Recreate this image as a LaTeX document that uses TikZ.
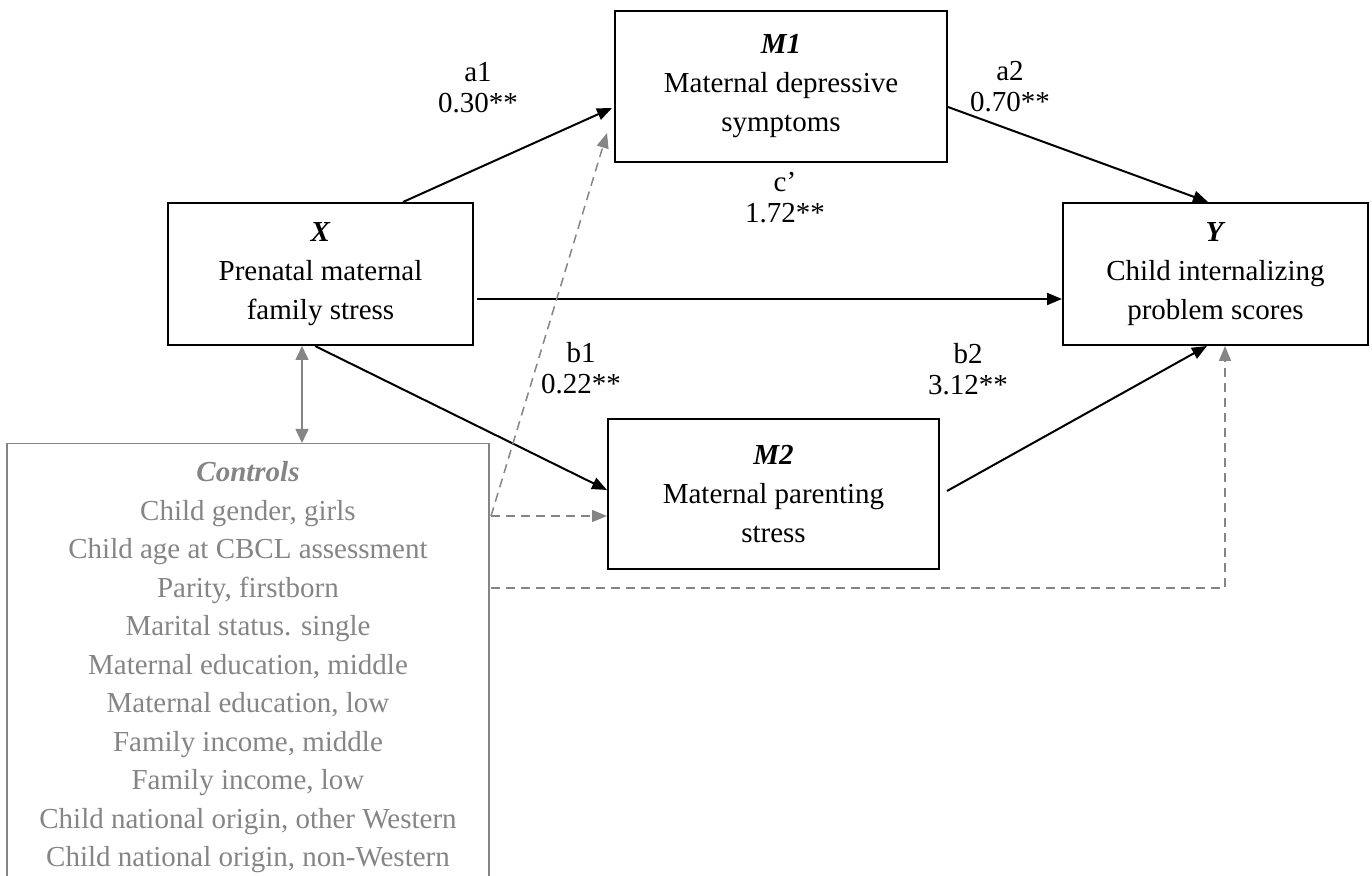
\documentclass[tikz,border=0pt]{standalone}
\usepackage{fontspec}
\setmainfont{Liberation Serif}
\usetikzlibrary{arrows.meta,calc}
\definecolor{ctrlgray}{HTML}{858585}

\begin{document}
\begin{tikzpicture}[x=0.5pt,y=-0.5pt,font=\fontsize{14.5}{19.5}\selectfont,
  var/.style={draw,line width=1pt,align=center,inner sep=0pt},
  link/.style={line width=1pt,-{Triangle[length=7.5pt,width=6pt]}},
  ctrllink/.style={ctrlgray,line width=0.75pt,dash pattern=on 4.5pt off 3pt,-{Triangle[length=7.5pt,width=6pt]}},
  coef/.style={align=center,font=\fontsize{14.5}{15.5}\selectfont}]
\clip (0,0) rectangle (1372,876);
% variables
\node[var,minimum width=152.5pt,minimum height=71pt] (X) at (320.5,274) {\textbf{\textit{X}}\\Prenatal maternal\\family stress};
\node[var,minimum width=166pt,minimum height=75.5pt] (M1) at (781,86.5) {\textbf{\textit{M1}}\\Maternal depressive\\symptoms};
\node[var,minimum width=165.5pt,minimum height=75pt] (M2) at (773.5,494) {\textbf{\textit{M2}}\\Maternal parenting\\stress};
\node[var,minimum width=152.5pt,minimum height=71pt] (Y) at (1215.5,274) {\textbf{\textit{Y}}\\Child internalizing\\problem scores};
% controls, cut off at the bottom
\node[draw=ctrlgray,line width=0.75pt,inner sep=0pt,minimum width=241pt,minimum height=250pt,anchor=north] (ctrl) at (248,443) {};
\node[align=center,inner sep=0pt,anchor=north,text=ctrlgray,font=\fontsize{14.5}{19.25}\selectfont] (ctrltext) at (248,461) {\textbf{\textit{Controls}}\\Child gender, girls\\Child age at CBCL assessment\\Parity, firstborn\\Marital status. single\\Maternal education, middle\\Maternal education, low\\Family income, middle\\Family income, low\\Child national origin, other Western\\Child national origin, non-Western};
% paths
\draw[link] ($(X.north)+(82.5,0)$) -- ($(M1.west)+(-2,21.5)$);
\draw[link] ($(M1.east)+(0,20.5)$) -- ($(Y.north)+(-7.5,0)$);
\draw[link] ($(X.east)+(3,25)$) -- ($(Y.west)+(0,25)$);
\draw[link] ($(X.south)+(-5.5,0)$) -- ($(M2.west)+(0,-4)$);
\draw[link] ($(M2.east)+(7,-3)$) -- ($(Y.south)+(-8.5,0)$);
% coefficients
\node[coef] (a1) at (478,88) {a1\\0.30**};
\node[coef] (a2) at (1010,87) {a2\\0.70**};
\node[coef] (c) at (785,198) {c’\\1.72**};
\node[coef] (b1) at (581,368) {b1\\0.22**};
\node[coef] (b2) at (968,369) {b2\\3.12**};
% control links
\coordinate (dbl) at ($(X.south)+(-18.5,0)$);
\draw[ctrlgray,line width=0.75pt,{Triangle[length=7pt,width=6.5pt]}-{Triangle[length=7pt,width=6.5pt]}] (dbl) -- (dbl |- ctrl.north);
\coordinate (cA) at (491,516);
\coordinate (cB) at (491,588);
\draw[ctrllink] (cA) -- ($(M1.south west)+(-7,-30)$);
\draw[ctrllink] (cA) -- (cA -| M2.west);
\draw[ctrllink] (cB) -| ($(Y.south)+(9.5,0)$);
\end{tikzpicture}
\end{document}
